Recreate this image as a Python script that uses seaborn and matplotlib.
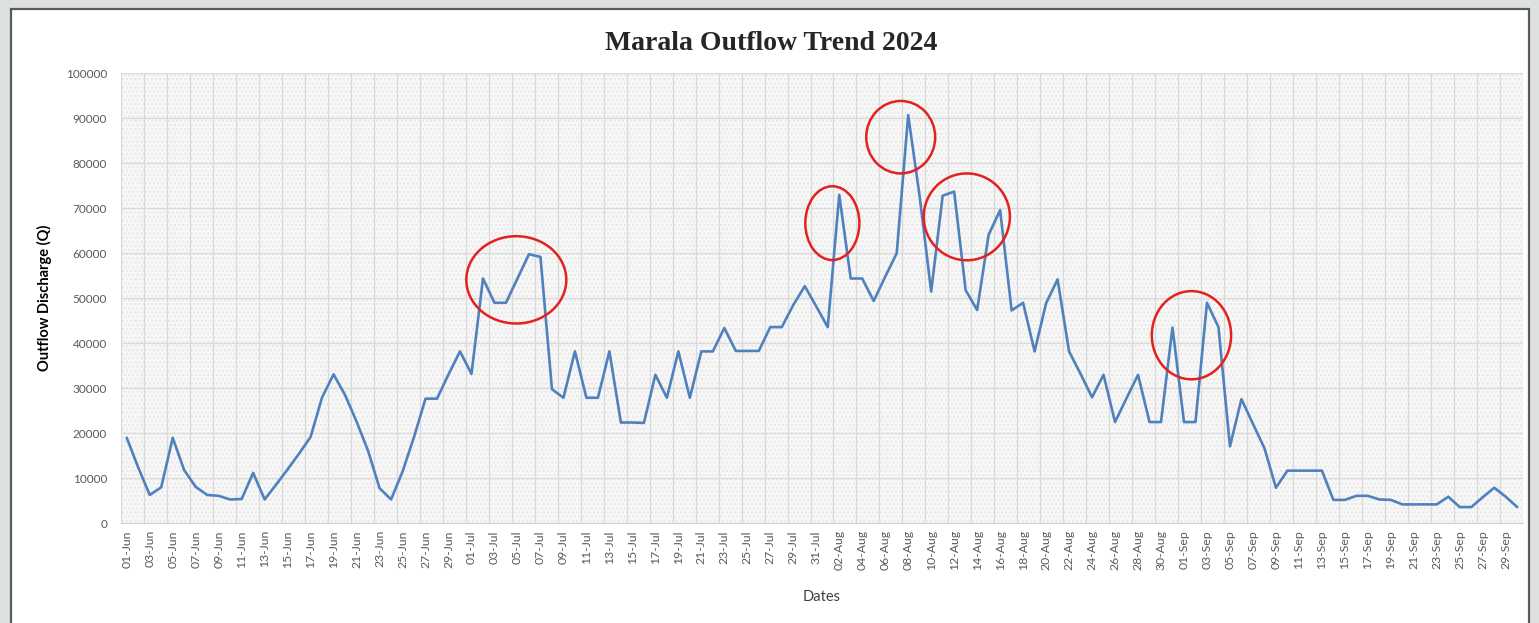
import numpy as np
import pandas as pd
import matplotlib
matplotlib.use('Agg')
import matplotlib.pyplot as plt
from matplotlib.patches import Ellipse, Rectangle
import seaborn as sns

# Daily outflow at Marala, 01-Jun to 30-Sep 2024
dates = pd.date_range('2024-06-01', '2024-09-30', freq='D')
outflow = [
    19000, 12400, 6300, 8000, 19000, 11800, 8100, 6300, 6100, 5300,
    5400, 11200, 5300, 8600, 12000, 15500, 19200, 28000, 33100, 28500,
    22600, 16100, 7800, 5300, 11500, 19200, 27700, 27700, 33100, 38200,
    33200, 54400, 49000, 49000, 54400, 59800, 59200, 29800, 27900, 38200,
    27900, 27900, 38200, 22400, 22400, 22300, 33000, 27900, 38200, 27900,
    38200, 38200, 43400, 38300, 38300, 38300, 43600, 43600, 48500, 52700,
    48200, 43600, 73000, 54400, 54400, 49400, 54800, 60000, 90700, 72600,
    51500, 72800, 73700, 51800, 47400, 64100, 69600, 47300, 49000, 38200,
    48900, 54200, 38200, 33200, 28000, 33000, 22500, 27800, 33000, 22500,
    22500, 43500, 22500, 22500, 49000, 43600, 17100, 27600, 22100, 16700,
    7900, 11700, 11700, 11700, 11700, 5200, 5200, 6100, 6100, 5300,
    5200, 4200, 4200, 4200, 4200, 5900, 3600, 3600, 5800, 7900,
    5900, 3600,
]

# peaks highlighted with red circles: (day index, value, width in days, height in Q)
highlights = [
    (33.9, 54100, 8.7, 19400),
    (61.4, 66700, 4.7, 16400),
    (67.35, 85800, 6.0, 16100),
    (73.1, 68100, 7.5, 19300),
    (92.65, 41800, 6.9, 19600),
]

df = pd.DataFrame({'day': np.arange(len(dates)), 'Q': outflow})
tick_labels = [d.strftime('%d-%b') for d in dates]

sns.set_style('white')
plt.rcParams['font.family'] = ['Lato', 'DejaVu Sans']

fig = plt.figure(figsize=(15.39, 6.23), dpi=100)
fig.patch.set_facecolor('#dde2de')
# white chart frame
fig.patches.append(Rectangle((11 / 1539, -0.01), 1518 / 1539, 1 - 9 / 623 + 0.01,
                             transform=fig.transFigure, facecolor='white',
                             edgecolor='#5a5a5a', lw=1.6, zorder=-5))

ax = fig.add_axes([121 / 1539, 1 - 523.3 / 623, 1402 / 1539, 450 / 623])
ax.set_facecolor('#f6f6f6')
ax.add_patch(Rectangle((0, 0), 1, 1, transform=ax.transAxes, facecolor='#f7f7f7',
                       edgecolor='#e8e8e8', hatch='....', lw=0, zorder=0.1))

sns.lineplot(data=df, x='day', y='Q', ax=ax, color='#4f81bd', lw=1.9, zorder=3)

for cx, cy, w, h in highlights:
    ax.add_patch(Ellipse((cx, cy), w, h, fill=False, edgecolor='#e3211f', lw=1.8, zorder=4))

ax.set_xlim(-0.5, len(dates) - 0.5)
ax.set_ylim(0, 100000)
ax.set_yticks(np.arange(0, 100001, 10000))
ax.set_xticks(df['day'][::2])
ax.set_xticklabels(tick_labels[::2], rotation=90, fontsize=8.8, color='#595959')
ax.set_xticks(np.arange(-0.5, len(dates), 2), minor=True)
ax.tick_params(axis='y', labelsize=8.5, colors='#595959', length=0, pad=10)
ax.tick_params(axis='x', which='both', length=0, pad=5)

ax.set_axisbelow(True)
ax.grid(axis='y', which='major', color='#d9d9d9', lw=0.9)
ax.grid(axis='x', which='minor', color='#d9d9d9', lw=0.9)
for s in ax.spines.values():
    s.set_visible(False)
ax.spines['bottom'].set_visible(True)
ax.spines['bottom'].set_color('#d0d0d0')

ax.set_xlabel('Dates', fontsize=10.5, color='#404040', labelpad=14)
ax.set_ylabel('Outflow Discharge (Q)', fontsize=10.5, fontweight='bold', color='black', labelpad=10)
fig.text(0.501, 1 - 43 / 623, 'Marala Outflow Trend 2024', ha='center', va='center',
         fontsize=20, fontweight='bold', family=['Liberation Serif', 'DejaVu Serif'])

fig.savefig('out.png', dpi=100, facecolor=fig.get_facecolor())
